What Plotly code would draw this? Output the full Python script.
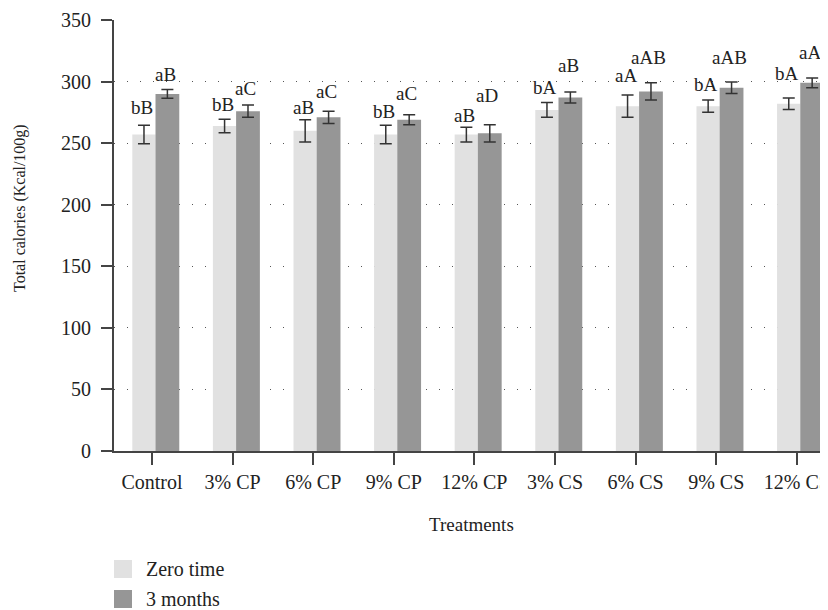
import plotly.graph_objects as go

treatments = ["Control", "3% CP", "6% CP", "9% CP", "12% CP", "3% CS", "6% CS", "9% CS", "12% CS"]

zero_time = [257, 264, 260, 257, 257, 277, 280, 280, 282]
zero_time_err = [7.5, 5.5, 9, 7.5, 6, 6, 9, 5, 4.6]
zero_time_labels = ["bB", "bB", "aB", "bB", "aB", "bA", "aA", "bA", "bA"]

three_months = [290, 276, 271, 269, 258, 287, 292, 295, 299]
three_months_err = [3.5, 5, 5, 4, 7, 4.5, 7, 4.7, 4]
three_months_labels = ["aB", "aC", "aC", "aC", "aD", "aB", "aAB", "aAB", "aA"]

series_names = ["Zero time", "3 months"]

# pixel gap between top of error bar and label baseline (labels were hand placed)
lift_zero = [11, 8, 6, 7, 5, 9, 13, 9, 18]
lift_three = [9, 10, 13, 15, 23, 20, 19, 18, 19]

FONT = "Liberation Serif"
LIGHT = "#e1e1e1"
DARK = "#969696"
AXIS = "#444444"
TXT = "#222222"

# the page body adds an 8px offset, so layout is laid out 8px up/left
OFF = 8
W, H = 828, 610
ML, MR, MT, MB = 114 - OFF, OFF, 20 - OFF, 159 + OFF
PW, PH = W - ML - MR, H - MT - MB


def px_x(px):
    # screen pixel x -> paper coordinate
    return (px - OFF - ML) / PW


def px_y(py):
    return (H - MB - (py - OFF)) / PH


fig = go.Figure()
fig.add_trace(go.Bar(x=treatments, y=zero_time, name=series_names[0],
                     marker=dict(color=LIGHT, line=dict(width=0)),
                     offset=-0.245, width=0.29, showlegend=False,
                     error_y=dict(type="data", array=zero_time_err, color="#333333",
                                  thickness=1.5, width=6)))
fig.add_trace(go.Bar(x=treatments, y=three_months, name=series_names[1],
                     marker=dict(color=DARK, line=dict(width=0)),
                     offset=0.043, width=0.295, showlegend=False,
                     error_y=dict(type="data", array=three_months_err, color="#333333",
                                  thickness=1.5, width=6)))

# significance letters
for i, t in enumerate(treatments):
    fig.add_annotation(x=t, y=zero_time[i] + zero_time_err[i], text=zero_time_labels[i],
                       showarrow=False, xanchor="center", yanchor="bottom",
                       xshift=-10, yshift=lift_zero[i] - 6,
                       font=dict(family=FONT, size=19, color=TXT))
    fig.add_annotation(x=t, y=three_months[i] + three_months_err[i], text=three_months_labels[i],
                       showarrow=False, xanchor="center", yanchor="bottom",
                       xshift=13, yshift=lift_three[i] - 6,
                       font=dict(family=FONT, size=19, color=TXT))

# axis titles
fig.add_annotation(text="Total calories (Kcal/100g)", xref="paper", yref="paper",
                   x=px_x(20), y=px_y(208), textangle=-90, showarrow=False,
                   xanchor="center", yanchor="middle",
                   font=dict(family=FONT, size=16, color=TXT))
fig.add_annotation(text="Treatments", xref="paper", yref="paper",
                   x=px_x(471), y=px_y(524), showarrow=False,
                   xanchor="center", yanchor="middle",
                   font=dict(family=FONT, size=19, color=TXT))

# legend drawn by hand (squares + text) below the plot
for k, (name, col) in enumerate(zip(series_names, [LIGHT, DARK])):
    top = 560 + 30 * k
    fig.add_shape(type="rect", xref="paper", yref="paper",
                  x0=px_x(114), x1=px_x(132), y0=px_y(top + 18), y1=px_y(top),
                  fillcolor=col, line=dict(width=0))
    fig.add_annotation(text=name, xref="paper", yref="paper",
                       x=px_x(144), y=px_y(top + 9), showarrow=False,
                       xanchor="left", yanchor="middle",
                       font=dict(family=FONT, size=20, color=TXT))

fig.update_layout(
    width=W,
    height=H,
    margin=dict(l=ML, r=MR, t=MT, b=MB, autoexpand=False),
    plot_bgcolor="white",
    paper_bgcolor="white",
    font=dict(family=FONT, size=20, color=TXT),
    showlegend=False,
    xaxis=dict(range=[-0.472, 8.387], showgrid=False, showline=True, linecolor=AXIS,
               linewidth=2, ticks="outside", ticklen=12, tickwidth=1.5, tickcolor=AXIS,
               tickfont=dict(family=FONT, size=20, color=TXT), zeroline=False,
               automargin=False),
    yaxis=dict(range=[0, 350], dtick=50, showline=True, linecolor=AXIS, linewidth=2,
               ticks="outside", ticklen=11, tickwidth=1.5, tickcolor=AXIS,
               showgrid=True, gridcolor="#555555", gridwidth=1.3, griddash="1px,12px",
               zeroline=False, ticklabelstandoff=6, automargin=False,
               tickfont=dict(family=FONT, size=20, color=TXT)),
)

fig.write_html("out.html")
